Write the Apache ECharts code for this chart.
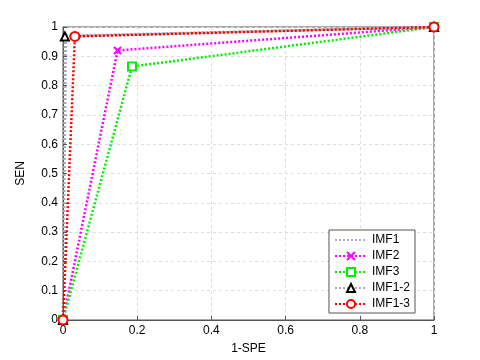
<!DOCTYPE html>
<html>
<head>
<meta charset="utf-8">
<script src="https://cdn.jsdelivr.net/npm/echarts@6/dist/echarts.min.js"></script>
<style>
  html, body { margin: 0; padding: 0; background: #fff; }
  #chart { width: 480px; height: 360px; }
</style>
</head>
<body>
<div id="chart"></div>
<script>
// ROC points (1-SPE, SEN)
const imf1 = [[0, 0], [0.008, 0.97], [1, 1]]
const imf2 = [[0, 0], [0.147, 0.92], [1, 1]]
const imf3 = [[0, 0], [0.186, 0.865], [1, 1]]
const imf12 = [[0, 0], [0.005, 0.968], [1, 1]]
const imf13 = [[0, 0], [0.032, 0.968], [1, 1]]

const xTicks = [0, 0.2, 0.4, 0.6, 0.8, 1]
const yTicks = [0, 0.1, 0.2, 0.3, 0.4, 0.5, 0.6, 0.7, 0.8, 0.9, 1]

const chart = echarts.init(document.getElementById('chart'))

const fontFam = 'Liberation Sans, Arial, sans-serif'

const mkSeries = (name, data, color, symbol, symbolColor, size) => ({
  name: name,
  type: 'line',
  data: data,
  symbol: symbol,
  symbolSize: size,
  lineStyle: { color: color, width: 2.5, type: [2, 2] },
  itemStyle: { color: symbolColor, borderColor: symbolColor, borderWidth: 2 },
  emphasis: { disabled: true },
  animation: false
})

const option = {
  animation: false,
  grid: {
    left: 63, right: 46, top: 27, bottom: 40,
    show: true, borderColor: '#555', borderWidth: 1
  },
  xAxis: {
    type: 'value',
    min: 0, max: 1, interval: 0.2,
    name: '1-SPE',
    nameLocation: 'middle',
    nameGap: 23,
    nameTextStyle: { fontFamily: fontFam, fontSize: 12, color: '#000' },
    axisLine: { show: true, lineStyle: { color: '#555' } },
    axisTick: { inside: true, length: 4, lineStyle: { color: '#555' } },
    axisLabel: {
      fontFamily: fontFam, fontSize: 12, color: '#000', margin: 5,
      formatter: v => xTicks.includes(+v.toFixed(1)) ? String(+v.toFixed(1)) : ''
    },
    splitLine: { show: true, lineStyle: { color: '#ddd', type: [3, 3] } }
  },
  yAxis: {
    type: 'value',
    min: 0, max: 1, interval: 0.1,
    name: 'SEN',
    nameLocation: 'middle',
    nameGap: 36,
    nameRotate: 90,
    nameTextStyle: { fontFamily: fontFam, fontSize: 12, color: '#000' },
    axisLine: { show: true, lineStyle: { color: '#555' } },
    axisTick: { inside: true, length: 4, lineStyle: { color: '#555' } },
    axisLabel: {
      fontFamily: fontFam, fontSize: 12, color: '#000', margin: 5,
      formatter: v => yTicks.includes(+v.toFixed(1)) ? String(+v.toFixed(1)) : ''
    },
    splitLine: { show: true, lineStyle: { color: '#ddd', type: [3, 3] } }
  },
  legend: {
    orient: 'vertical',
    right: 65,
    bottom: 47,
    backgroundColor: '#fff',
    borderColor: '#555',
    borderWidth: 1,
    borderRadius: 0,
    padding: [4, 5, 3, 5],
    itemGap: 4,
    itemWidth: 32,
    itemHeight: 10,
    textStyle: { fontFamily: fontFam, fontSize: 12, color: '#000' },
    data: [
      { name: 'IMF1', itemStyle: { opacity: 0 } },
      'IMF2', 'IMF3', 'IMF1-2', 'IMF1-3'
    ]
  },
  series: [
    mkSeries('IMF1', imf1, '#aaaaee', 'none', '#aaaaee', 0),
    mkSeries('IMF2', imf2, '#ff00ff', 'path://M0,0L10,10M10,0L0,10', '#ff00ff', 7),
    mkSeries('IMF3', imf3, '#00ee00', 'emptyRect', '#00ee00', 8),
    mkSeries('IMF1-2', imf12, '#aaaaaa', 'emptyTriangle', '#000', 8),
    mkSeries('IMF1-3', imf13, '#ff0000', 'emptyCircle', '#ff0000', 9)
  ]
}

chart.setOption(option)
</script>
</body>
</html>
